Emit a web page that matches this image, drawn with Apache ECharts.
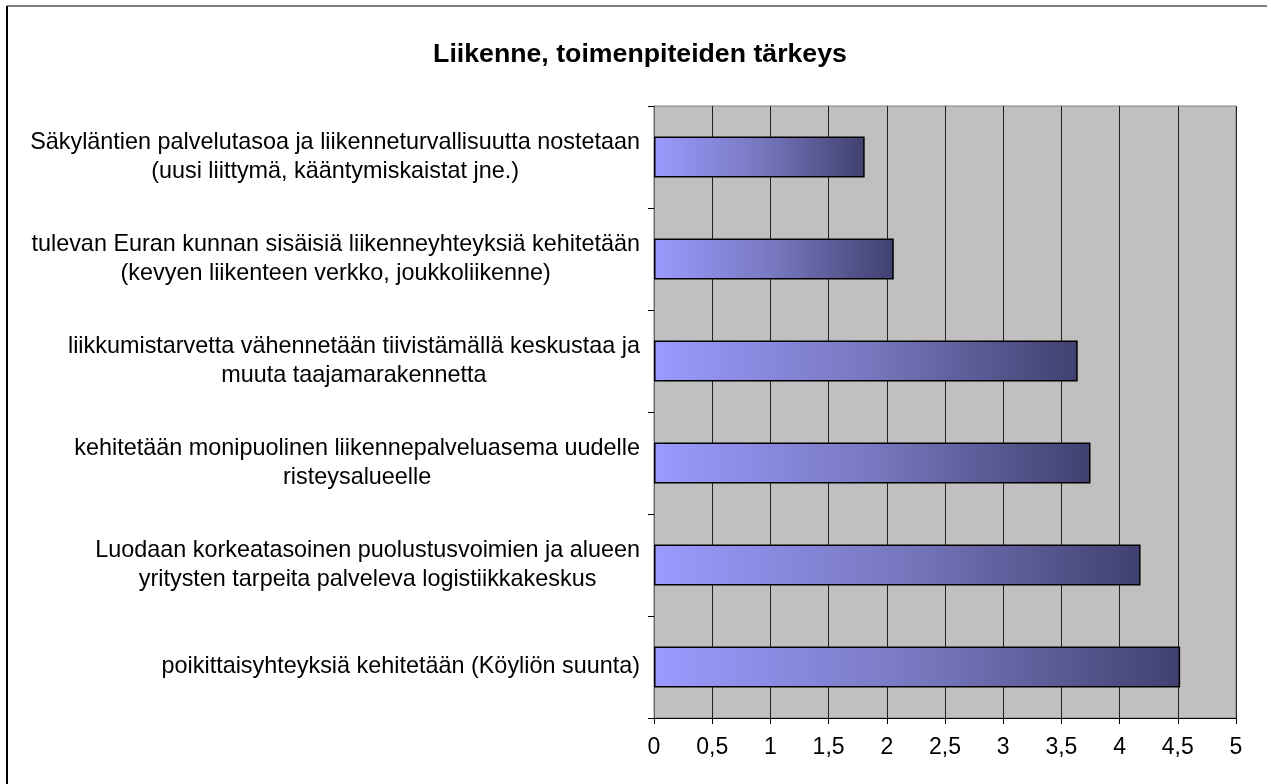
<!DOCTYPE html>
<html>
<head>
<meta charset="utf-8">
<script src="https://cdn.jsdelivr.net/npm/echarts@6/dist/echarts.min.js"></script>
<style>
  html, body { margin: 0; padding: 0; background: #fff; }
  #chart { width: 1267px; height: 784px; }
</style>
</head>
<body>
<div id="chart"></div>
<script>
const titleText = "Liikenne, toimenpiteiden tärkeys";

// top to bottom, as in the picture
const categories = [
  "Säkyläntien palvelutasoa ja liikenneturvallisuutta nostetaan\n(uusi liittymä, kääntymiskaistat jne.)",
  "tulevan Euran kunnan sisäisiä liikenneyhteyksiä kehitetään\n(kevyen liikenteen verkko, joukkoliikenne)",
  "liikkumistarvetta vähennetään tiivistämällä keskustaa ja\nmuuta taajamarakennetta",
  "kehitetään monipuolinen liikennepalveluasema uudelle\nristeysalueelle",
  "Luodaan korkeatasoinen puolustusvoimien ja alueen\nyritysten tarpeita palveleva logistiikkakeskus",
  "poikittaisyhteyksiä kehitetään (Köyliön suunta)"
];
const values = [1.81, 2.06, 3.64, 3.75, 4.18, 4.52];

const fontFamily = "'Liberation Sans', Arial, sans-serif";

const chart = echarts.init(document.getElementById("chart"), null, { renderer: "canvas" });

chart.setOption({
  animation: false,
  backgroundColor: "#fff",
  title: {
    text: titleText,
    left: 635,
    top: 36,
    textAlign: "center",
    textStyle: { fontFamily, fontSize: 26.7, fontWeight: "bold", color: "#000" }
  },
  graphic: [
    { type: "line", shape: { x1: 7, y1: 6, x2: 1267, y2: 6 }, style: { stroke: "#000", lineWidth: 1 } },
    { type: "line", shape: { x1: 7, y1: 6, x2: 7, y2: 784 }, style: { stroke: "#000", lineWidth: 2 } }
  ],
  grid: {
    left: 654,
    right: 31,
    top: 106,
    bottom: 66,
    show: true,
    backgroundColor: "#c0c0c0",
    borderColor: "#808080",
    borderWidth: 1
  },
  xAxis: {
    type: "value",
    min: 0,
    max: 5,
    interval: 0.5,
    axisLine: { show: true, lineStyle: { color: "#000" } },
    axisTick: { show: true, length: 6, lineStyle: { color: "#000" } },
    axisLabel: {
      margin: 18,
      fontFamily,
      fontSize: 23,
      color: "#000",
      formatter: v => String(v).replace(".", ",")
    },
    splitLine: { show: true, lineStyle: { color: "#222", width: 1 } }
  },
  yAxis: {
    type: "category",
    inverse: true,
    data: categories,
    axisLine: { show: true, lineStyle: { color: "#666" } },
    axisTick: { show: true, length: 6, alignWithLabel: false, lineStyle: { color: "#000" } },
    axisLabel: {
      margin: 14,
      fontFamily,
      fontSize: 23.4,
      color: "#000",
      lineHeight: 29,
      formatter: v => v.split("\n").map(s => "{c|" + s + "}").join("\n"),
      rich: { c: { align: "center", fontFamily, fontSize: 23.4, lineHeight: 29, color: "#000" } }
    },
    splitLine: { show: false }
  },
  series: [{
    type: "bar",
    data: values,
    barCategoryGap: "60%",
    itemStyle: {
      color: new echarts.graphic.LinearGradient(0, 0, 1, 0, [
        { offset: 0, color: "#9a9aff" },
        { offset: 0.5, color: "#7878c0" },
        { offset: 1, color: "#404070" }
      ]),
      borderColor: "#000",
      borderWidth: 1.5
    }
  }]
});
</script>
</body>
</html>
